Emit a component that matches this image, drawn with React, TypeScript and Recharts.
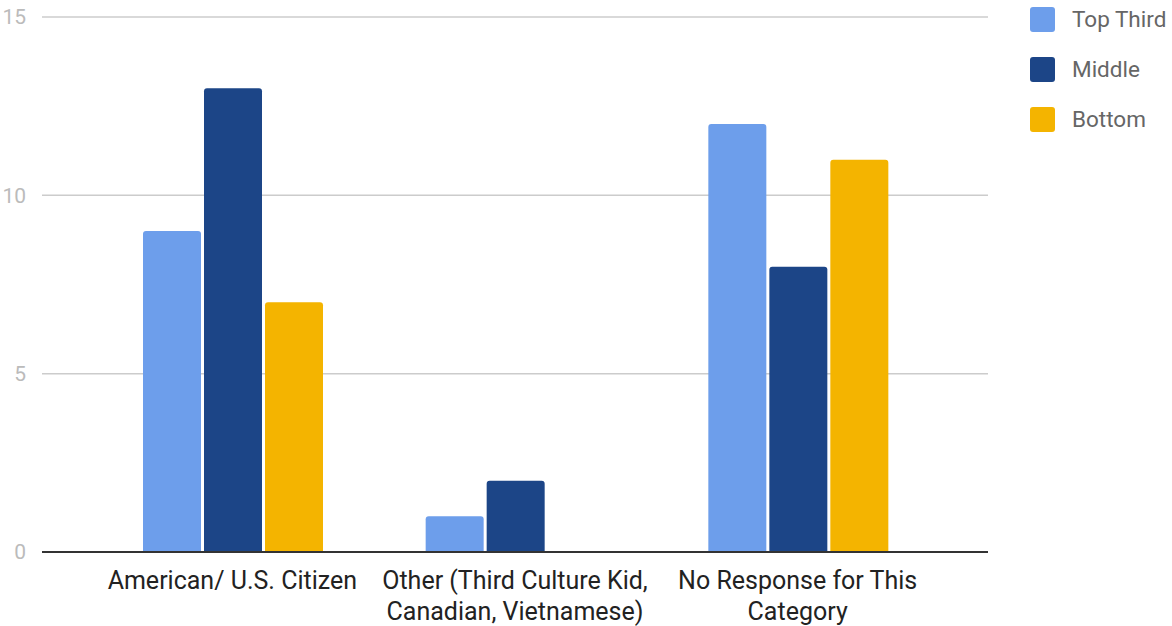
import { Bar, BarChart, CartesianGrid, Legend, XAxis, YAxis } from "recharts";

const categories = [
  "American/ U.S. Citizen",
  "Other (Third Culture Kid, Canadian, Vietnamese)",
  "No Response for This Category",
];
const labelLines: Record<string, string[]> = {
  "American/ U.S. Citizen": ["American/ U.S. Citizen"],
  "Other (Third Culture Kid, Canadian, Vietnamese)": ["Other (Third Culture Kid,", "Canadian, Vietnamese)"],
  "No Response for This Category": ["No Response for This", "Category"],
};
const topThird = [9, 1, 12];
const middle = [13, 2, 8];
const bottom = [7, 0, 11];
const yTicks = [0, 5, 10, 15];

const series = [
  { key: "top", name: "Top Third", color: "#6d9eeb" },
  { key: "middle", name: "Middle", color: "#1c4587" },
  { key: "bottom", name: "Bottom", color: "#f4b400" },
];

const data = categories.map((c, i) => ({
  name: c,
  top: topThird[i],
  middle: middle[i],
  bottom: bottom[i],
}));

const FONT = "Roboto, Arial, sans-serif";

function CategoryTick(props: any) {
  const { x, y, payload } = props;
  const lines = labelLines[payload.value] || [payload.value];
  return (
    <text x={x} y={y + 29} textAnchor="middle" fill="#222" fontSize={25} fontFamily={FONT}>
      {lines.map((l, i) => (
        <tspan key={i} x={x} dy={i === 0 ? 0 : 31}>
          {l}
        </tspan>
      ))}
    </text>
  );
}

function SideLegend() {
  return (
    <div style={{ fontFamily: FONT }}>
      {series.map((s) => (
        <div key={s.key} style={{ display: "flex", alignItems: "center", height: 50 }}>
          <span
            style={{
              width: 25,
              height: 25,
              borderRadius: 3,
              background: s.color,
              marginRight: 17,
              display: "inline-block",
            }}
          />
          <span style={{ fontSize: 22.5, color: "#666" }}>{s.name}</span>
        </div>
      ))}
    </div>
  );
}

export default function App() {
  return (
    <div style={{ position: "absolute", left: 0, top: 0, width: 1172, height: 626, background: "#fff" }}>
      <BarChart
        width={1172}
        height={626}
        data={data}
        margin={{ top: 17, right: 42, left: 0, bottom: 0 }}
        barCategoryGap={52}
        barGap={3}
      >
        <CartesianGrid vertical={false} stroke="#ccc" strokeWidth={1.5} />
        <XAxis
          dataKey="name"
          height={74}
          padding={{ left: 49, right: 49 }}
          axisLine={{ stroke: "#333", strokeWidth: 2 }}
          tickLine={false}
          interval={0}
          tick={<CategoryTick />}
        />
        <YAxis
          domain={[0, 15]}
          ticks={yTicks}
          width={42}
          axisLine={false}
          tickLine={false}
          tick={{ fontSize: 21, fill: "#bbb", fontFamily: FONT }}
          tickMargin={10}
        />
        <Legend
          layout="vertical"
          align="right"
          verticalAlign="top"
          content={() => <SideLegend />}
          wrapperStyle={{ left: 1030, top: -6, width: 142 }}
        />
        {series.map((s) => (
          <Bar
            key={s.key}
            dataKey={s.key}
            name={s.name}
            fill={s.color}
            radius={[3, 3, 0, 0]}
            isAnimationActive={false}
          />
        ))}
      </BarChart>
    </div>
  );
}
